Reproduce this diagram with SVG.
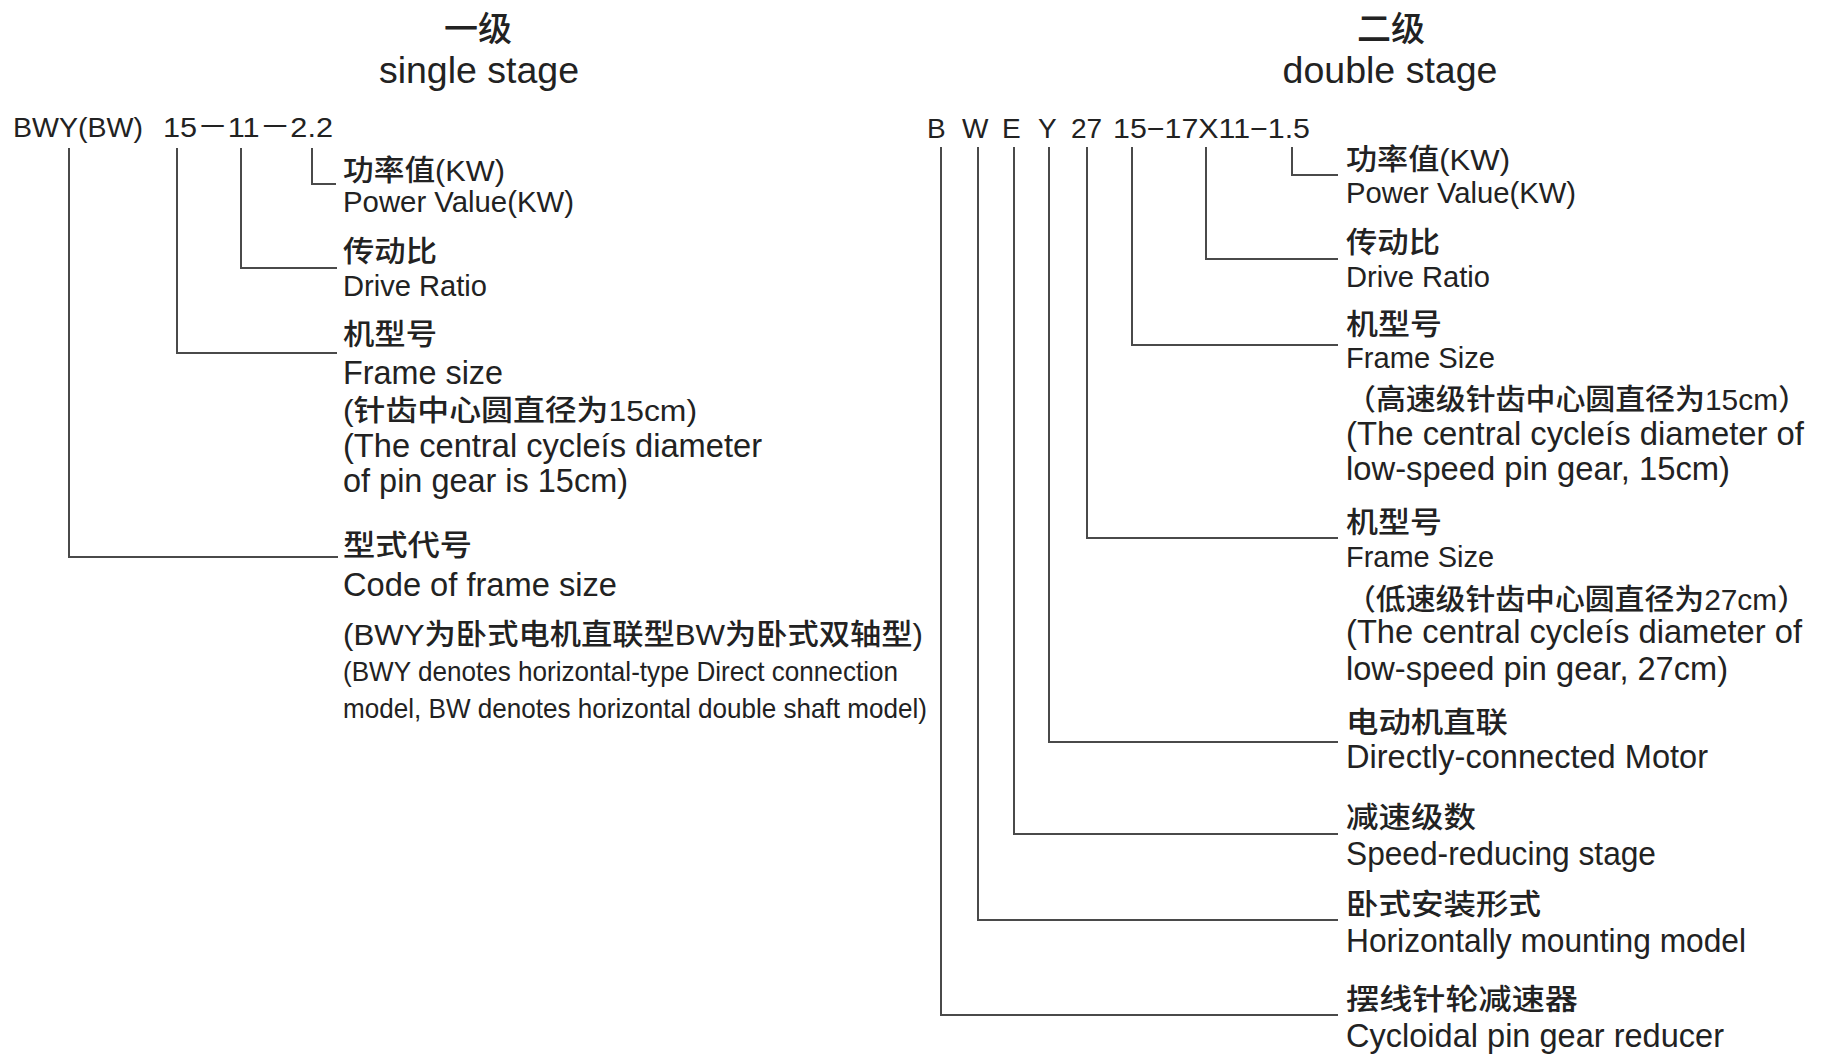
<svg xmlns="http://www.w3.org/2000/svg" width="1828" height="1056" viewBox="0 0 1828 1056">
<style>
text{fill:#222}
.en{font-family:"Liberation Sans",Arial,"Noto Sans CJK SC",sans-serif}
.cj{font-family:"Liberation Sans","Noto Sans CJK SC",sans-serif;font-size:29px;font-weight:500}
.tt{font-size:37.5px;text-anchor:middle}
.tc{font-family:"Noto Sans CJK SC",sans-serif;font-size:34px;font-weight:500;text-anchor:middle}
.s29{font-size:29px}
.s32{font-size:32.5px}
.s28{font-size:28px}
.code{font-family:"Liberation Sans",Arial,"Noto Sans CJK SC",sans-serif;font-size:28px}
.conn path{fill:none;stroke:#4a4a4a;stroke-width:2}
</style>
<rect width="1828" height="1056" fill="#fff"/>
<g id="title-single">
<text class="tc" x="478" y="41">一级</text>
<text class="en tt" x="479" y="83">single stage</text>
</g>
<g id="title-double">
<text class="tc" x="1391" y="41">二级</text>
<text class="en tt" x="1390" y="83">double stage</text>
</g>
<g id="code-single">
<text class="code" x="13" y="137" textLength="130" lengthAdjust="spacingAndGlyphs">BWY(BW)</text>
<text class="code" x="163" y="137" textLength="170" lengthAdjust="spacingAndGlyphs">15－11－2.2</text>
</g>
<g id="code-double">
<text class="code" x="927" y="138">B</text>
<text class="code" x="962" y="138">W</text>
<text class="code" x="1002" y="138">E</text>
<text class="code" x="1038" y="138">Y</text>
<text class="code" x="1071" y="138">27</text>
<text class="code" x="1113" y="138" textLength="197" lengthAdjust="spacingAndGlyphs">15−17X11−1.5</text>
</g>
<g class="conn" id="connectors">
<path d="M69 148V557H338"/>
<path d="M177 148V353H337"/>
<path d="M241 148V268H337"/>
<path d="M312 148V184H336"/>
<path d="M941 147V1015H1338"/>
<path d="M978 147V920H1338"/>
<path d="M1014 147V834H1338"/>
<path d="M1049 147V742H1338"/>
<path d="M1087 147V538H1338"/>
<path d="M1132 147V345H1338"/>
<path d="M1206 147V259H1338"/>
<path d="M1292 147V175H1338"/>
</g>
<g id="s-power">
<text class="cj" x="343" y="181" textLength="162" lengthAdjust="spacingAndGlyphs">功率值(KW)</text>
<text class="en s29" x="343" y="212" textLength="231" lengthAdjust="spacingAndGlyphs">Power Value(KW)</text>
</g>
<g id="s-ratio">
<text class="cj" x="343" y="262" textLength="94" lengthAdjust="spacingAndGlyphs">传动比</text>
<text class="en s29" x="343" y="296" textLength="144" lengthAdjust="spacingAndGlyphs">Drive Ratio</text>
</g>
<g id="s-frame">
<text class="cj" x="343" y="345" textLength="94" lengthAdjust="spacingAndGlyphs">机型号</text>
<text class="en s32" x="343" y="384" textLength="160" lengthAdjust="spacingAndGlyphs">Frame size</text>
<text class="cj" x="343" y="421" textLength="354" lengthAdjust="spacingAndGlyphs">(针齿中心圆直径为15cm)</text>
<text class="en s32" x="343" y="457" textLength="419" lengthAdjust="spacingAndGlyphs">(The central cycleís diameter</text>
<text class="en s32" x="343" y="492" textLength="285" lengthAdjust="spacingAndGlyphs">of pin gear is 15cm)</text>
</g>
<g id="s-code">
<text class="cj" x="343" y="556" textLength="129" lengthAdjust="spacingAndGlyphs">型式代号</text>
<text class="en s32" x="343" y="596" textLength="274" lengthAdjust="spacingAndGlyphs">Code of frame size</text>
<text class="cj" x="343" y="645" textLength="580" lengthAdjust="spacingAndGlyphs">(BWY为卧式电机直联型BW为卧式双轴型)</text>
<text class="en s28" x="343" y="681" textLength="555" lengthAdjust="spacingAndGlyphs">(BWY denotes horizontal-type Direct connection</text>
<text class="en s28" x="343" y="718" textLength="584" lengthAdjust="spacingAndGlyphs">model, BW denotes horizontal double shaft model)</text>
</g>
<g id="d-power">
<text class="cj" x="1346" y="170" textLength="164" lengthAdjust="spacingAndGlyphs">功率值(KW)</text>
<text class="en s29" x="1346" y="203" textLength="230" lengthAdjust="spacingAndGlyphs">Power Value(KW)</text>
</g>
<g id="d-ratio">
<text class="cj" x="1346" y="253" textLength="94" lengthAdjust="spacingAndGlyphs">传动比</text>
<text class="en s29" x="1346" y="287" textLength="144" lengthAdjust="spacingAndGlyphs">Drive Ratio</text>
</g>
<g id="d-frame-high">
<text class="cj" x="1346" y="335" textLength="96" lengthAdjust="spacingAndGlyphs">机型号</text>
<text class="en s29" x="1346" y="368" textLength="149" lengthAdjust="spacingAndGlyphs">Frame Size</text>
<text class="cj" x="1346" y="410" textLength="462" lengthAdjust="spacingAndGlyphs">（高速级针齿中心圆直径为15cm）</text>
<text class="en s32" x="1346" y="445" textLength="458" lengthAdjust="spacingAndGlyphs">(The central cycleís diameter of</text>
<text class="en s32" x="1346" y="480" textLength="384" lengthAdjust="spacingAndGlyphs">low-speed pin gear, 15cm)</text>
</g>
<g id="d-frame-low">
<text class="cj" x="1346" y="533" textLength="96" lengthAdjust="spacingAndGlyphs">机型号</text>
<text class="en s29" x="1346" y="567" textLength="148" lengthAdjust="spacingAndGlyphs">Frame Size</text>
<text class="cj" x="1346" y="610" textLength="461" lengthAdjust="spacingAndGlyphs">（低速级针齿中心圆直径为27cm）</text>
<text class="en s32" x="1346" y="643" textLength="456" lengthAdjust="spacingAndGlyphs">(The central cycleís diameter of</text>
<text class="en s32" x="1346" y="680" textLength="382" lengthAdjust="spacingAndGlyphs">low-speed pin gear, 27cm)</text>
</g>
<g id="d-motor">
<text class="cj" x="1346" y="733" textLength="162" lengthAdjust="spacingAndGlyphs">电动机直联</text>
<text class="en s32" x="1346" y="768" textLength="362" lengthAdjust="spacingAndGlyphs">Directly-connected Motor</text>
</g>
<g id="d-stage">
<text class="cj" x="1346" y="828" textLength="130" lengthAdjust="spacingAndGlyphs">减速级数</text>
<text class="en s32" x="1346" y="865" textLength="310" lengthAdjust="spacingAndGlyphs">Speed-reducing stage</text>
</g>
<g id="d-mount">
<text class="cj" x="1346" y="915" textLength="195" lengthAdjust="spacingAndGlyphs">卧式安装形式</text>
<text class="en s32" x="1346" y="952" textLength="400" lengthAdjust="spacingAndGlyphs">Horizontally mounting model</text>
</g>
<g id="d-reducer">
<text class="cj" x="1346" y="1010" textLength="232" lengthAdjust="spacingAndGlyphs">摆线针轮减速器</text>
<text class="en s32" x="1346" y="1047" textLength="378" lengthAdjust="spacingAndGlyphs">Cycloidal pin gear reducer</text>
</g>
</svg>
